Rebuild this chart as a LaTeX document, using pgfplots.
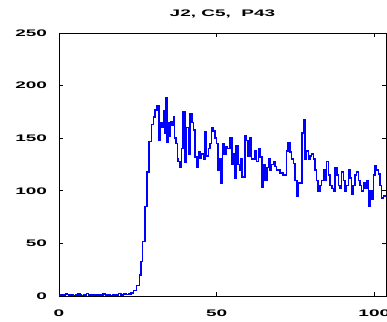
\documentclass[border=0pt]{standalone}
\usepackage{fontspec}
\setmainfont[FakeStretch=2.0]{Liberation Sans}
\usepackage{pgfplots}
\pgfplotsset{compat=1.18}
\begin{document}
\begin{tikzpicture}
\begin{axis}[
  scale only axis,
  width=327bp, height=263bp,
  xmin=0, xmax=103.7, ymin=0, ymax=250,
  xtick={0,50,100}, ytick={0,50,100,150,200,250},
  tick align=inside,
  major tick length=4bp,
  axis line style={line width=0.8bp, black},
  every tick/.style={black, line width=0.8bp},
  /pgf/number format/assume math mode=true,
  ticklabel style={font=\bfseries\fontsize{9.5bp}{11bp}\selectfont},
  yticklabel style={xshift=-8.5bp},
  xticklabel style={yshift=-10bp},
  title={J2, C5,\ \ P43},
  title style={font=\bfseries\fontsize{9.5bp}{11bp}\selectfont, at={(0.5,1)}, anchor=base, yshift=11bp},
]
\addplot[const plot, color={rgb,255:red,0;green,0;blue,255}, line width=1.5bp] coordinates {
(0,1) (0.6,1) (1.2,1) (2.0,2.5) (2.6,1.5) (3.2,1) (4.0,1) (4.6,0.5) (5.2,1) (6.0,2.5) (6.6,1) (7.2,0.5) (8.0,1) (8.8,2.5) (9.4,1) (10.0,1) (11,1) (12,1) (13,1) (14,2) (14.8,1) (15.6,1) (16.4,0.5) (17.2,1) (18,1) (18.8,2.5) (19.6,1) (20.4,2) (21.2,1.5) (22,2) (22.8,3) (23.6,5) (24.6,10) (25.5,20) (26.0,33) (26.5,52) (27.3,85) (27.9,118) (28.6,147) (29.4,163) (30.0,170) (30.5,177) (31.1,181) (31.7,148) (32.2,165) (32.7,160) (33.1,176) (33.5,155) (33.8,188) (34.2,146) (34.7,165) (35.1,152) (35.4,166) (35.8,162) (36.3,170) (36.7,150) (37.1,145) (37.5,130) (37.8,128) (38.4,122) (38.9,140) (39.4,175) (40.0,127) (40.5,160) (41.0,135) (41.5,173) (42.1,165) (42.6,158) (43.1,132) (43.7,122) (44.2,137) (44.7,131) (45.2,135) (45.8,130) (46.3,156) (46.8,133) (47.4,140) (47.9,145) (48.4,160) (48.9,157) (49.5,150) (50.0,145) (50.5,120) (51.1,130) (51.4,107) (51.9,145) (52.3,135) (52.9,142) (53.4,140) (54.2,150) (54.8,125) (55.3,135) (55.6,112) (56.1,143) (56.7,125) (57.2,120) (57.6,130) (58.1,113) (59.0,152) (59.5,148) (60.0,133) (60.6,150) (61.1,130) (61.6,130) (62.2,138) (62.7,128) (63.2,140) (63.7,132) (64.3,103) (64.8,125) (65.3,110) (65.9,122) (66.4,130) (66.9,120) (67.4,125) (68.0,128) (68.5,123) (69.0,120) (70.1,117) (71.1,115) (71.7,115) (72.2,138) (72.7,146) (73.3,137) (73.8,130) (74.3,126) (74.8,110) (75.4,95) (75.9,108) (76.4,107) (77.0,155) (77.5,168) (78.0,130) (78.5,138) (79.1,130) (79.6,133) (80.1,135) (80.7,130) (81.2,120) (81.7,110) (82.2,100) (82.8,105) (83.3,110) (83.8,120) (84.4,110) (84.9,128) (85.4,115) (85.9,105) (86.5,102) (87.0,100) (87.5,122) (88.1,115) (88.6,105) (89.1,102) (89.6,118) (90.2,110) (90.7,100) (91.2,105) (91.8,120) (92.3,112) (92.8,97) (93.3,105) (93.9,115) (94.4,118) (94.9,110) (95.5,105) (96.0,100) (96.5,108) (97.0,102) (97.6,110) (98.1,85) (98.6,100) (99.2,92) (99.7,115) (100.2,124) (100.7,120) (101.3,116) (101.8,105) (102.3,93) (102.9,95) (103.7,95)
};
\end{axis}
\pgfresetboundingbox
\path ([shift={(-59bp,-26bp)}]current axis.south west) rectangle ([shift={(1bp,33bp)}]current axis.north east);
\end{tikzpicture}
\end{document}
